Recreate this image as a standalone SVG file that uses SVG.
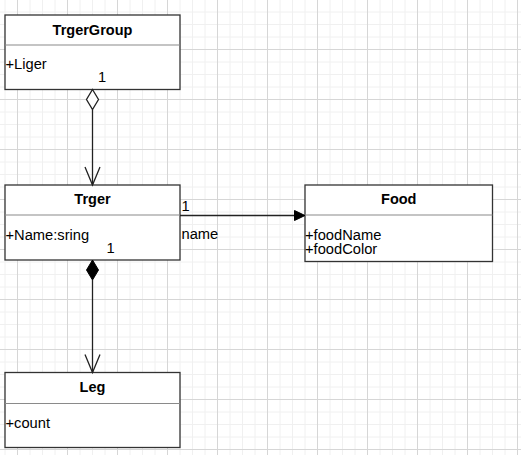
<svg xmlns="http://www.w3.org/2000/svg" width="521" height="455" viewBox="0 0 521 455">
<defs>
<pattern id="grid" patternUnits="userSpaceOnUse" x="17" y="-1" width="50" height="50">
<path d="M13 0V50M25.5 0V50M38 0V50M0 13H50M0 25.5H50M0 38H50" stroke="#f0f0f0" stroke-width="1" fill="none"/>
<path d="M0.5 0V50M0 0.5H50" stroke="#d6d6d6" stroke-width="1" fill="none"/>
</pattern>
<style>
.box{fill:#fff;stroke:#333;stroke-width:1.3}
.div{stroke:#8a8a8a;stroke-width:1.2}
.title{font-family:"Liberation Sans",Arial,sans-serif;font-weight:bold;font-size:14.5px;text-anchor:middle;fill:#000}
.attr{font-family:"Liberation Sans",Arial,sans-serif;font-size:14.7px;fill:#000}
.edge{stroke:#222;stroke-width:1.3;fill:none}
</style>
</defs>
<rect width="521" height="455" fill="#fff"/>
<rect width="521" height="455" fill="url(#grid)"/>
<g id="TrgerGroup">
<rect class="box" x="5" y="15" width="175" height="74.5"/>
<line class="div" x1="5" y1="45" x2="180" y2="45"/>
<text class="title" x="92.5" y="34.5">TrgerGroup</text>
<text class="attr" x="5.5" y="69">+Liger</text>
</g>
<g id="Trger">
<rect class="box" x="5" y="185" width="175" height="75"/>
<line class="div" x1="5" y1="215" x2="180" y2="215"/>
<text class="title" x="92.5" y="204.3">Trger</text>
<text class="attr" x="5.5" y="239.5">+Name:sring</text>
</g>
<g id="Food">
<rect class="box" x="305" y="185" width="187.5" height="76.5"/>
<line class="div" x1="305" y1="215" x2="492.5" y2="215"/>
<text class="title" x="398.75" y="204.3">Food</text>
<text class="attr" x="305" y="239.5">+foodName</text>
<text class="attr" x="305" y="254">+foodColor</text>
</g>
<g id="Leg">
<rect class="box" x="5" y="372.5" width="175" height="75"/>
<line class="div" x1="5" y1="403.5" x2="180" y2="403.5"/>
<text class="title" x="92.5" y="392">Leg</text>
<text class="attr" x="5.5" y="427.7">+count</text>
</g>
<g id="connectors">
<g id="agg">
<line class="edge" x1="92.5" y1="109.5" x2="92.5" y2="185"/>
<polygon points="92.5,89.5 98.5,99.5 92.5,109.5 86.5,99.5" fill="#fff" stroke="#222" stroke-width="1.3"/>
<polyline class="edge" points="85,167 92.5,185 100,167"/>
<text class="attr" x="98" y="82">1</text>
</g>
<g id="comp">
<line class="edge" x1="92.5" y1="280" x2="92.5" y2="372.5"/>
<polygon points="92.5,260 98.5,270 92.5,280 86.5,270" fill="#000" stroke="#000" stroke-width="1"/>
<polyline class="edge" points="85,354.5 92.5,372.5 100,354.5"/>
<text class="attr" x="106.5" y="253">1</text>
</g>
<g id="assoc">
<line class="edge" x1="180" y1="215.5" x2="295" y2="215.5"/>
<polygon points="294.5,210.5 305,215.5 294.5,220.5" fill="#000" stroke="#000" stroke-width="1"/>
<text class="attr" x="181.5" y="211">1</text>
<text class="attr" x="181.5" y="239">name</text>
</g>
</g>
</svg>
